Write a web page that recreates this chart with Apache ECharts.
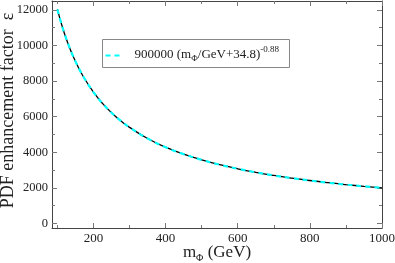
<!DOCTYPE html>
<html>
<head>
<meta charset="utf-8">
<script src="https://cdn.jsdelivr.net/npm/echarts@6/dist/echarts.min.js"></script>
<style>html,body{margin:0;padding:0;background:#fff}#c{width:395px;height:263px}</style>
</head>
<body>
<div id="c"></div>
<script>
// m_Phi (GeV)
const massGeV = [100,110,120,130,140,150,160,175,200,225,250,275,300,350,400,450,500,550,600,650,700,750,800,850,900,950,1000];
// PDF enhancement factor (black curve)
const enhancement = [12026,11292,10647,10076,9567,9110,8698,8148,7380,6751,6227,5782,5401,4778,4291,3899,3577,3306,3076,2877,2704,2552,2417,2296,2188,2090,2001];
// fit 900000 (m/GeV+34.8)^-0.88 (cyan dashed)
const fitValues = [12030,11290,10650,10076,9567,9110,8698,8148,7380,6751,6227,5782,5401,4778,4291,3899,3577,3306,3076,2877,2704,2552,2417,2296,2188,2090,2001];
const xMajorTicks = [200,400,600,800,1000];
const xAllTicks = [100,200,300,400,500,600,700,800,900,1000];
const yMajorTicks = [0,2000,4000,6000,8000,10000,12000];
const yAllTicks = [0,1000,2000,3000,4000,5000,6000,7000,8000,9000,10000,11000,12000];

const serif = '"Liberation Serif", "DejaVu Serif", serif';
const X_MIN = 85, X_MAX = 1000, Y_MIN = -250, Y_MAX = 12500;
const axisCol = '#444', tickCol = '#777';

function xAx(grid, pos, ticks, len, line, labels, extra) {
  return Object.assign({
    type: 'value', gridIndex: grid, position: pos, min: X_MIN, max: X_MAX,
    axisLine: {show: line, onZero: false, lineStyle: {color: axisCol, width: 1}},
    axisTick: {show: true, inside: true, length: len, customValues: ticks, lineStyle: {color: tickCol}},
    axisLabel: labels ? {show: true, customValues: xMajorTicks, formatter: v => String(v), fontFamily: serif, fontSize: 13, color: '#222', margin: 4} : {show: false},
    splitLine: {show: false}
  }, extra || {});
}
function yAx(grid, pos, ticks, len, line, labels, extra) {
  return Object.assign({
    type: 'value', gridIndex: grid, position: pos, min: Y_MIN, max: Y_MAX,
    axisLine: {show: line, onZero: false, lineStyle: {color: axisCol, width: 1}},
    axisTick: {show: true, inside: true, length: len, customValues: ticks, lineStyle: {color: tickCol}},
    axisLabel: labels ? {show: true, customValues: yMajorTicks, formatter: v => String(v), fontFamily: serif, fontSize: 12.5, color: '#222', margin: 4} : {show: false},
    splitLine: {show: false}
  }, extra || {});
}

const chart = echarts.init(document.getElementById('c'), null, {renderer: 'canvas'});
chart.setOption({
  animation: false,
  backgroundColor: '#fff',
  grid: [
    {left: 52, right: 13, top: 1, bottom: 35, containLabel: false, outerBoundsMode: 'none'},
    {left: 52, right: 13, top: 1, bottom: 35, containLabel: false, outerBoundsMode: 'none'}
  ],
  xAxis: [
    xAx(0, 'bottom', xAllTicks, 3, true, true, {
      name: '{a|m}{b|Φ}{a| (GeV)}', nameLocation: 'middle', nameGap: 15, nameMoveOverlap: false,
      nameTextStyle: {verticalAlign: 'top', rich: {
        a: {fontFamily: serif, fontSize: 17, color: '#222', lineHeight: 20, verticalAlign: 'middle'},
        b: {fontFamily: serif, fontSize: 10, color: '#222', lineHeight: 10, verticalAlign: 'bottom'}
      }}
    }),
    xAx(0, 'top', xAllTicks, 3, true, false),
    xAx(1, 'bottom', xMajorTicks, 5, false, false),
    xAx(1, 'top', xMajorTicks, 5, false, false)
  ],
  yAxis: [
    yAx(0, 'left', yAllTicks, 3, true, true, {
      name: 'PDF enhancement factor  ε', nameLocation: 'middle', nameGap: 35, nameMoveOverlap: false,
      nameTextStyle: {fontFamily: serif, fontSize: 18, color: '#222', padding: [0, 0, 0, 8]}
    }),
    yAx(0, 'right', yAllTicks, 3, true, false),
    yAx(1, 'left', yMajorTicks, 5, false, false),
    yAx(1, 'right', yMajorTicks, 5, false, false)
  ],
  series: [
    {type: 'line', xAxisIndex: 0, yAxisIndex: 0, showSymbol: false, smooth: true,
     data: massGeV.map((m, i) => [m, enhancement[i]]),
     lineStyle: {color: '#000', width: 1.3}, z: 2},
    {type: 'line', xAxisIndex: 0, yAxisIndex: 0, showSymbol: false, smooth: true,
     data: massGeV.map((m, i) => [m, fitValues[i]]),
     lineStyle: {color: '#00ffff', width: 2.2, type: [5, 4]}, z: 3}
  ],
  graphic: [{
    type: 'group', left: 102, top: 39,
    children: [
      {type: 'rect', shape: {x: 0, y: 0, width: 187, height: 28},
       style: {fill: '#fff', stroke: '#888', lineWidth: 1}},
      {type: 'line', shape: {x1: 3, y1: 16, x2: 21, y2: 16},
       style: {stroke: '#00ffff', lineWidth: 2, lineDash: [5, 4]}},
      {type: 'text', x: 32, y: 15,
       style: {
         text: '{a|900000 (m}{b|Φ}{a|/GeV+34.8)}{c|-0.88}',
         verticalAlign: 'middle', align: 'left',
         rich: {
           a: {fontFamily: serif, fontSize: 13, fill: '#222', lineHeight: 18, verticalAlign: 'middle'},
           b: {fontFamily: serif, fontSize: 9, fill: '#222', lineHeight: 9, verticalAlign: 'bottom'},
           c: {fontFamily: serif, fontSize: 9, fill: '#222', lineHeight: 9, verticalAlign: 'top'}
         }
       }}
    ]
  }]
});
</script>
</body>
</html>
